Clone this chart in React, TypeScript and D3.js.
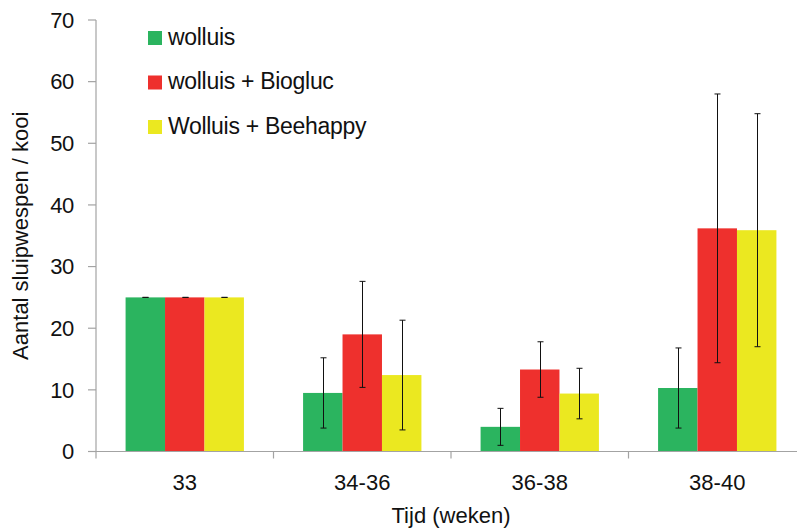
import React from "react";
import * as d3 from "d3";

// Weeks (categories) and series
const weeks = ["33", "34-36", "36-38", "38-40"];
const seriesNames = ["wolluis", "wolluis + Biogluc", "Wolluis + Beehappy"];
const seriesColors = ["#2bb45f", "#ee302d", "#ebe820"];

// Mean number of parasitoid wasps per cage, per series
const wolluis = [25, 9.5, 4.0, 10.3];
const biogluc = [25, 19.0, 13.3, 36.2];
const beehappy = [25, 12.4, 9.4, 35.9];

// Error bar half-widths (standard deviation)
const wolluisErr = [0, 5.7, 3.0, 6.5];
const bioglucErr = [0, 8.6, 4.5, 21.8];
const beehappyErr = [0, 8.9, 4.1, 18.9];

const yTicks = [0, 10, 20, 30, 40, 50, 60, 70];

const W = 797;
const H = 531;
const FONT = "'Liberation Sans', Arial, Helvetica, sans-serif";

export default function App() {
  const values = [wolluis, biogluc, beehappy];
  const errors = [wolluisErr, bioglucErr, beehappyErr];

  const x0 = 96;
  const x1 = 806;
  const yBase = 451.5;
  const yTop = 20;

  const x = d3.scaleBand<string>().domain(weeks).range([x0, x1]).padding(0);
  const bw = x.bandwidth() / 4.5;
  const xs = d3
    .scaleBand<number>()
    .domain([0, 1, 2])
    .range([0, bw * 3])
    .padding(0);
  const y = d3.scaleLinear().domain([0, 70]).range([yBase, yTop]);

  const axisColor = "#a3a3a3";

  return (
    <svg
      width={W}
      height={H}
      style={{ position: "absolute", left: 0, top: 0, background: "#fff" }}
      fontFamily={FONT}
    >
      {/* bars */}
      {weeks.map((wk, i) => {
        const gx = (x(wk) as number) + x.bandwidth() / 2 - (bw * 3) / 2;
        return (
          <g key={wk}>
            {values.map((vals, s) => (
              <rect
                key={s}
                x={gx + (xs(s) as number)}
                y={y(vals[i])}
                width={xs.bandwidth()}
                height={yBase - y(vals[i])}
                fill={seriesColors[s]}
              />
            ))}
          </g>
        );
      })}

      {/* error bars */}
      {weeks.map((wk, i) => {
        const gx = (x(wk) as number) + x.bandwidth() / 2 - (bw * 3) / 2;
        return (
          <g key={"e" + wk} stroke="#111" strokeWidth={1}>
            {values.map((vals, s) => {
              const cx = Math.round(gx + (xs(s) as number) + xs.bandwidth() / 2) + 0.5;
              const hi = y(vals[i] + errors[s][i]);
              const lo = y(Math.max(0, vals[i] - errors[s][i]));
              return (
                <g key={s}>
                  <line x1={cx} x2={cx} y1={hi} y2={lo} />
                  <line x1={cx - 3} x2={cx + 3} y1={hi} y2={hi} />
                  <line x1={cx - 3} x2={cx + 3} y1={lo} y2={lo} />
                </g>
              );
            })}
          </g>
        );
      })}

      {/* y axis */}
      <line x1={x0} x2={x0} y1={yTop} y2={yBase + 7} stroke={axisColor} strokeWidth={1.2} />
      {yTicks.map((t) => (
        <g key={t}>
          <line x1={x0 - 8} x2={x0} y1={y(t)} y2={y(t)} stroke={axisColor} strokeWidth={1.2} />
          <text
            x={74}
            y={y(t)}
            dy="0.35em"
            textAnchor="end"
            fontSize={22}
            letterSpacing={-0.3}
            fill="#111"
          >
            {t}
          </text>
        </g>
      ))}

      {/* x axis */}
      <line x1={x0} x2={x1} y1={yBase} y2={yBase} stroke={axisColor} strokeWidth={1.2} />
      {weeks.map((wk) => (
        <line
          key={"t" + wk}
          x1={(x(wk) as number) + x.bandwidth()}
          x2={(x(wk) as number) + x.bandwidth()}
          y1={yBase}
          y2={yBase + 7}
          stroke={axisColor}
          strokeWidth={1.2}
        />
      ))}
      {weeks.map((wk) => (
        <text
          key={"l" + wk}
          x={(x(wk) as number) + x.bandwidth() / 2}
          y={490}
          textAnchor="middle"
          fontSize={22}
          fill="#111"
        >
          {wk}
        </text>
      ))}

      {/* axis titles */}
      <text x={451} y={523} textAnchor="middle" fontSize={22} fill="#111">
        Tijd (weken)
      </text>
      <text
        transform={`translate(28, ${(yTop + yBase) / 2}) rotate(-90)`}
        textAnchor="middle"
        fontSize={22}
        fill="#111"
      >
        Aantal sluipwespen / kooi
      </text>

      {/* legend */}
      {seriesNames.map((name, s) => (
        <g key={name} transform={`translate(148, ${31 + s * 44.5})`}>
          <rect x={0} y={0} width={14} height={14} fill={seriesColors[s]} />
          <text x={20} y={13.5} fontSize={23} letterSpacing={-0.3} fill="#111">
            {name}
          </text>
        </g>
      ))}
    </svg>
  );
}
